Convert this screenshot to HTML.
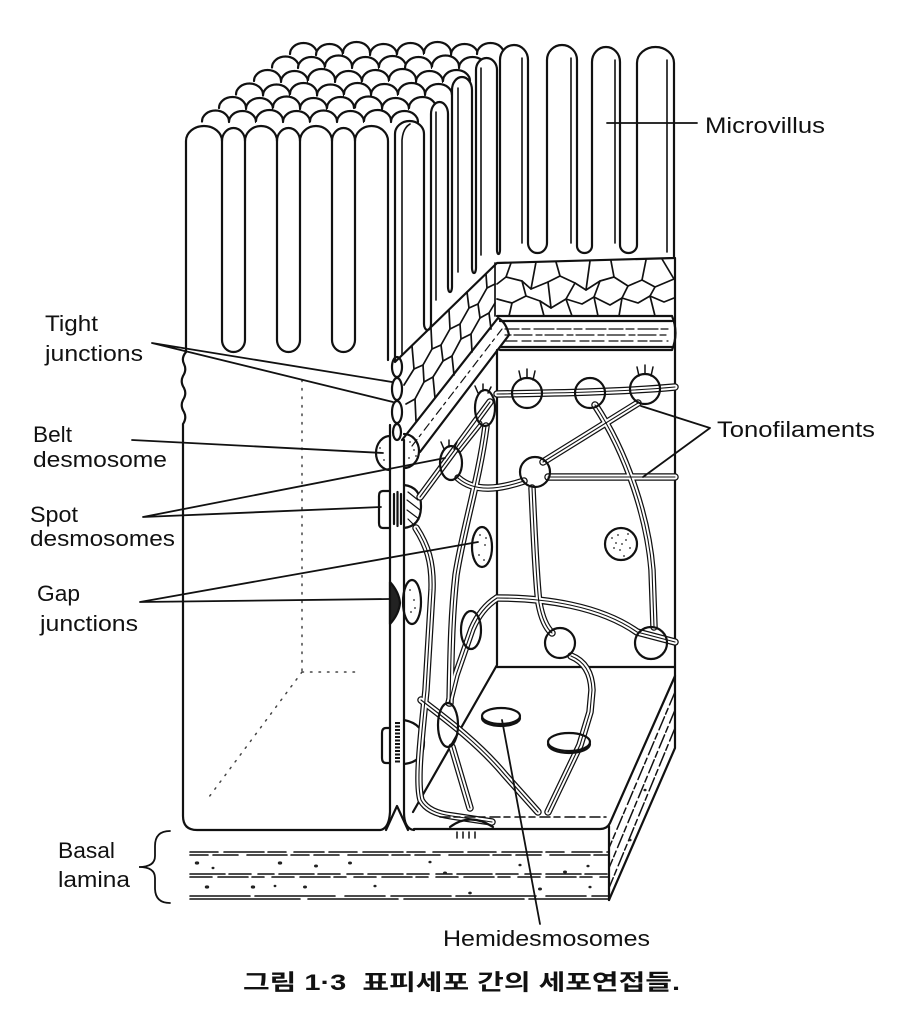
<!DOCTYPE html>
<html><head><meta charset="utf-8"><style>
html,body{margin:0;padding:0;background:#fff;}
svg{display:block;}
text{font-family:"Liberation Sans",Arial,sans-serif;fill:#111;}
.k{font-family:"Liberation Sans","Noto Sans CJK KR",sans-serif;}
</style></head><body>
<svg width="902" height="1010" viewBox="0 0 902 1010" xmlns="http://www.w3.org/2000/svg" xmlns:xlink="http://www.w3.org/1999/xlink">
<defs>
<g id="s"><path d="M0,0a13.5,11 0 0 1 27,0v9h-27z" fill="#fff" stroke="none"/><path d="M0,0a13.5,11 0 0 1 27,0" fill="none"/></g>
<g id="tf" fill="none">
<path d="M497,394 C560,393 620,392 675,387"/>
<path d="M458,478 C475,493 500,489 524,481"/>
<path d="M548,477 L675,477"/>
<path d="M543,462 L638,403"/>
<path d="M595,405 C628,455 648,520 652,570 L654,627"/>
<path d="M532,488 C534,530 536,580 539,603 Q543,625 552,633"/>
<path d="M571,656 Q591,664 592,690 L590,712 L580,745 L548,812"/>
<path d="M497,598 C545,598 600,606 637,632 L675,642"/>
<path d="M497,598 C486,605 478,615 472,629 L456,675 L449,703"/>
<path d="M486,426 C479,480 463,530 456,575 C451,620 451,660 450,703"/>
<path d="M416,528 C427,545 433,562 432,590 L426,690 C421,740 416,782 421,800 Q428,813 452,816 L492,822"/>
<path d="M421,700 C450,722 480,745 505,775 L538,812"/>
<path d="M452,747 L470,808"/>
<path d="M490,402 L420,497"/>
<path d="M479,424 L459,449"/>
</g>
</defs>

<g stroke="#111" stroke-width="2.2" fill="none" stroke-linecap="round" stroke-linejoin="round">
<!-- scale rows (back to front) -->
<use href="#s" x="290" y="54"/><use href="#s" x="316" y="55"/><use href="#s" x="343" y="53"/><use href="#s" x="370" y="55"/><use href="#s" x="397" y="54"/><use href="#s" x="424" y="53"/><use href="#s" x="451" y="55"/><use href="#s" x="477" y="54"/>
<use href="#s" x="272" y="67.5"/><use href="#s" x="298" y="68"/><use href="#s" x="325" y="66.5"/><use href="#s" x="352" y="68"/><use href="#s" x="379" y="67"/><use href="#s" x="405" y="68"/><use href="#s" x="432" y="66.5"/><use href="#s" x="459" y="68"/>
<use href="#s" x="254" y="81"/><use href="#s" x="281" y="82"/><use href="#s" x="308" y="80"/><use href="#s" x="335" y="82"/><use href="#s" x="362" y="81"/><use href="#s" x="389" y="80"/><use href="#s" x="416" y="82"/><use href="#s" x="443" y="81"/>
<use href="#s" x="236" y="94.5"/><use href="#s" x="263" y="95.5"/><use href="#s" x="290" y="94"/><use href="#s" x="317" y="95.5"/><use href="#s" x="344" y="94"/><use href="#s" x="371" y="95"/><use href="#s" x="398" y="94"/><use href="#s" x="425" y="95"/>
<use href="#s" x="219" y="108"/><use href="#s" x="246" y="109"/><use href="#s" x="273" y="107.5"/><use href="#s" x="300" y="109"/><use href="#s" x="327" y="108"/><use href="#s" x="355" y="107.5"/><use href="#s" x="382" y="109"/><use href="#s" x="409" y="108"/>
<use href="#s" x="202" y="121.5"/><use href="#s" x="229" y="122"/><use href="#s" x="256" y="121"/><use href="#s" x="283" y="122"/><use href="#s" x="310" y="121.5"/><use href="#s" x="337" y="122"/><use href="#s" x="364" y="121"/><use href="#s" x="391" y="122"/>

<!-- staircase + right villi -->
<path fill="#fff" d="M395,362 V134 A14.5,13 0 0 1 424,134 V324 A3.5,6 0 0 0 431,324 V114 A8.5,12 0 0 1 448,114 V287 A2,5 0 0 0 452,287 V90 A10,13 0 0 1 472,90 V268 A2,5 0 0 0 476,268 V70 A10.5,12 0 0 1 497,70 V250 A1.5,4 0 0 0 500,250 V60 A14,15 0 0 1 528,60 V243 A9.5,10 0 0 0 547,243 V60 A15,15 0 0 1 577,60 V246 A7.5,7 0 0 0 592,246 V62 A14,15 0 0 1 620,62 V245 A8.5,8 0 0 0 637,245 V63 A18.5,16 0 0 1 674,63 V258 L497,263 Z"/>
<g stroke-width="1.6">
<path d="M402,355 V140 Q403,128 410,124"/>
<path d="M436,300 V112"/>
<path d="M458,272 V88"/>
<path d="M481,255 V68"/>
<path d="M522,243 V58"/>
<path d="M571,243 V58"/>
<path d="M615,243 V60"/>
<path d="M667,252 V60"/>
</g>

<!-- front comb (left cell villi) -->
<path d="M186,352 V141 A18,15 0 0 1 222,141 V340 A11.5,12 0 0 0 245,340 V141 A16,15 0 0 1 277,141 V340 A11.5,12 0 0 0 300,340 V141 A16,15 0 0 1 332,141 V340 A11.5,12 0 0 0 355,340 V141 A16.5,15 0 0 1 388,141 V360"/>
<path d="M222,141 A11.5,13 0 0 1 245,141 M277,141 A11.5,13 0 0 1 300,141 M332,141 A11.5,13 0 0 1 355,141"/>

<!-- left cell -->
<path d="M186,352 Q181,358 184,364 Q187,370 183,376 Q180,382 184,388 Q187,394 183,400 Q180,406 184,412 Q187,418 183,424 L183,816 Q183,830 197,830 L380,830 Q389,829 390,812 V425"/>
<g stroke-width="1.5" stroke="#444" stroke-dasharray="1.5 7">
<path d="M302,380 V672"/><path d="M302,672 L209,797"/><path d="M302,672 H355"/>
</g>

<!-- tight junctions -->
<ellipse cx="397" cy="367" rx="5" ry="10"/>
<ellipse cx="397" cy="389" rx="5" ry="11"/>
<ellipse cx="397" cy="412" rx="5" ry="11"/>
<ellipse cx="397" cy="432" rx="4" ry="8"/>

<!-- right cell left edge + floor front -->
<path d="M404,440 V812 Q404,829 414,830"/>
<path d="M386,830 L397,806 L408,830"/>
<path d="M414,829 H600 Q607,829 610,823 L675,676"/>
<path d="M675,258 V748 L609,900"/>
<path d="M609,826 V900"/>
<path d="M497,350 V665 L413,812"/>
<path d="M497,667 H675"/>

<!-- belt desmosome -->
<path d="M390,436 A14,17 0 0 0 390,470"/>
<path d="M404,434 A15,17 0 0 1 404,468"/>

<!-- spot desmosome (junction) -->
<path d="M390,491 H383 Q379,491 379,496 V523 Q379,528 383,528 H390"/>
<path d="M404,485 Q421,487 421,506 Q421,526 404,528"/>
<g stroke-width="2.2"><path d="M394,494 V524 M397.5,492 V526 M401,494 V524"/></g>
<g stroke-width="1.2"><path d="M408,492 L418,500 M407,500 L420,510 M407,510 L419,519 M408,519 L414,525"/></g>

<!-- gap junction -->
<path d="M390,582 Q399,592 400,603 Q399,614 390,624 Z" fill="#222"/>
<ellipse cx="412" cy="602" rx="9" ry="22"/>

<!-- lower spot desmosome -->
<path d="M390,728 H386 Q382,728 382,733 V758 Q382,763 386,763 H390"/>
<path d="M397.5,722 V764" stroke-width="5" stroke-dasharray="2 1.5" stroke-linecap="butt"/>
<path d="M404,720 Q424,724 424,742 Q424,762 404,764"/>

<!-- cobblestones -->
<g stroke-width="1.7">
<polyline points="497,284 506,277 522,281 531,289 548,282 560,276 575,283 586,290 600,281 614,277 628,286 642,280 655,287 674,279"/>
<polyline points="497,299 512,303 526,296 540,301 551,308 566,299 582,304 594,297 610,305 622,298 638,303 650,296 664,302 674,298"/>
<path d="M506,277 L511,263 M531,289 L536,262 M560,276 L556,262 M586,290 L590,261 M614,277 L611,261 M642,280 L646,260 M674,279 L662,259"/>
<path d="M522,281 L526,296 M548,282 L551,308 M575,283 L566,299 M600,281 L594,297 M628,286 L622,298 M655,287 L650,296"/>
<path d="M512,303 L509,316 M540,301 L544,316 M566,299 L572,316 M594,297 L598,316 M622,298 L619,316 M650,296 L655,316"/>
<path d="M495,263 V316"/>
<polyline points="404,385 414,369 423,365 432,349 441,345 450,329 460,324 469,308 478,304 487,288 495,284"/>
<polyline points="406,404 415,399 424,382 433,377 443,361 452,356 461,339 471,334 480,318 489,313 495,303"/>
<path d="M412,346 L414,369 M431,328 L432,349 M449,310 L450,329 M467,292 L469,308 M486,274 L487,288"/>
<path d="M423,365 L424,382 M441,345 L443,361 M460,324 L461,339 M478,304 L480,318"/>
<path d="M415,399 L416,421 M433,377 L435,398 M452,356 L454,375 M471,334 L472,352 M489,313 L491,329"/>
</g>

<!-- horizontal bar -->
<path d="M497,316 H672 M500,321 H672 M500,347 H672 M500,350 H672 M672,316 Q679,333 672,350"/>
<g stroke-width="1.2">
<path d="M505,329 H668" stroke-dasharray="14 3 8 4 20 3"/>
<path d="M505,335 H668" stroke-dasharray="6 3 18 4"/>
<path d="M505,341 H668" stroke-dasharray="12 5 9 3"/>
</g>

<!-- diagonal bar -->
<path d="M402,440 L498,318 Q506,322 509,335 L420,452"/>
<path d="M412,446 L502,329" stroke-width="1.2" stroke-dasharray="8 4 3 5"/>
</g>

<!-- tonofilaments -->
<use href="#tf" stroke="#111" stroke-width="7.5" stroke-linecap="round" stroke-linejoin="round"/>
<use href="#tf" stroke="#fff" stroke-width="5" stroke-linecap="round" stroke-linejoin="round"/>
<use href="#tf" stroke="#111" stroke-width="1.1" stroke-linecap="round" stroke-linejoin="round"/>

<g stroke="#111" stroke-width="2.2" fill="none" stroke-linecap="round">
<!-- back wall desmosomes -->
<circle cx="527" cy="393" r="15"/>
<circle cx="590" cy="393" r="15"/>
<circle cx="645" cy="389" r="15"/>
<circle cx="535" cy="472" r="15"/>
<circle cx="621" cy="544" r="16"/>
<circle cx="560" cy="643" r="15"/>
<circle cx="651" cy="643" r="16"/>
<!-- side wall -->
<ellipse cx="485" cy="408" rx="10" ry="18"/>
<ellipse cx="451" cy="463" rx="11" ry="17"/>
<ellipse cx="482" cy="547" rx="10" ry="20"/>
<ellipse cx="471" cy="630" rx="10" ry="19"/>
<ellipse cx="448" cy="725" rx="10" ry="22"/>
<!-- tufts -->
<g stroke-width="1.5">
<path d="M521,380 L519,371 M527,378 V369 M533,380 L535,371"/>
<path d="M639,376 L637,367 M645,374 V365 M651,376 L653,367"/>
<path d="M478,393 L475,386 M483,391 V384 M488,393 L491,387"/>
<path d="M444,449 L441,442 M449,447 V440 M454,449 L457,442"/>
</g>
<!-- floor hemidesmosome discs -->
<ellipse cx="501" cy="716" rx="19" ry="8"/>
<path d="M482,718 A19,8 0 0 0 520,718"/>
<ellipse cx="569" cy="742" rx="21" ry="9"/>
<path d="M548,744 A21,9 0 0 0 590,744"/>
<path d="M450,827 Q470,812 493,827"/>
<path d="M457,832 V838 M463,832 V838 M469,832 V838 M475,832 V838" stroke-width="1.5"/>
<path d="M440,817 H606" stroke-width="1.5" stroke-dasharray="10 4 6 5"/>

<!-- slab inner -->
<g stroke-width="1.5" stroke-dasharray="14 4 6 3">
<path d="M675,692 L609,848"/><path d="M675,710 L609,868"/><path d="M675,728 L609,888"/>
</g>

<!-- basal lamina lines -->
<g stroke-width="1.6">
<path d="M190,852 H608" stroke-dasharray="28 6 40 4 18 8 30 5"/>
<path d="M190,855 H608" stroke-dasharray="18 5 25 9 40 4"/>
<path d="M190,874 H608" stroke-dasharray="35 4 22 7 16 5"/>
<path d="M190,877 H608" stroke-dasharray="22 6 30 4 12 8"/>
<path d="M190,896 H608" stroke-dasharray="60 5 80 10 40 6"/>
<path d="M190,899 H608" stroke-dasharray="110 8 90 6 120 5"/>
</g>

<!-- leaders -->
<g stroke-width="1.8">
<path d="M152,343 L392,382 M152,343 L393,402"/>
<path d="M132,440 L383,453"/>
<path d="M143,517 L445,458 M143,517 L381,507"/>
<path d="M140,602 L478,542 M140,602 L389,599"/>
<path d="M607,123 H697"/>
<path d="M710,428 L641,406 M710,428 L643,477"/>
<path d="M502,720 L540,924"/>
<path d="M170,831 Q155,831 155,846 L155,856 Q155,867 139,867 Q155,867 155,878 L155,888 Q155,903 170,903"/>
</g>
</g>

<!-- stipple dots -->
<g fill="#222">
<circle cx="410" cy="442" r="0.9"/><circle cx="414" cy="450" r="0.9"/><circle cx="409" cy="458" r="0.9"/><circle cx="416" cy="456" r="0.9"/><circle cx="380" cy="448" r="0.9"/><circle cx="376" cy="456" r="0.9"/><circle cx="384" cy="460" r="0.9"/>
<circle cx="612" cy="538" r="0.9"/><circle cx="618" cy="535" r="0.9"/><circle cx="626" cy="540" r="0.9"/><circle cx="630" cy="548" r="0.9"/><circle cx="620" cy="550" r="0.9"/><circle cx="614" cy="548" r="0.9"/><circle cx="624" cy="556" r="0.9"/><circle cx="628" cy="534" r="0.9"/><circle cx="616" cy="543" r="0.9"/><circle cx="622" cy="544" r="0.9"/>
<circle cx="480" cy="535" r="0.9"/><circle cx="485" cy="545" r="0.9"/><circle cx="479" cy="555" r="0.9"/><circle cx="484" cy="560" r="0.9"/><circle cx="486" cy="538" r="0.9"/>
<circle cx="410" cy="590" r="0.9"/><circle cx="414" cy="600" r="0.9"/><circle cx="411" cy="612" r="0.9"/><circle cx="415" cy="608" r="0.9"/>
<ellipse cx="197" cy="863" rx="2.2" ry="1.6"/><ellipse cx="213" cy="868" rx="1.5" ry="1.2"/><ellipse cx="280" cy="863" rx="2.2" ry="1.6"/><ellipse cx="316" cy="866" rx="2" ry="1.5"/><ellipse cx="350" cy="863" rx="2" ry="1.5"/>
<ellipse cx="207" cy="887" rx="2.2" ry="1.6"/><ellipse cx="253" cy="887" rx="2.2" ry="1.6"/><ellipse cx="275" cy="886" rx="1.4" ry="1.2"/><ellipse cx="305" cy="887" rx="2" ry="1.5"/><ellipse cx="375" cy="886" rx="1.6" ry="1.3"/>
<ellipse cx="445" cy="873" rx="2" ry="1.5"/><ellipse cx="520" cy="865" rx="1.6" ry="1.3"/><ellipse cx="565" cy="872" rx="2" ry="1.5"/><ellipse cx="540" cy="889" rx="2" ry="1.5"/><ellipse cx="590" cy="887" rx="1.6" ry="1.3"/><ellipse cx="588" cy="866" rx="1.6" ry="1.3"/><ellipse cx="470" cy="893" rx="1.8" ry="1.4"/><ellipse cx="430" cy="862" rx="1.6" ry="1.3"/><ellipse cx="645" cy="790" rx="1.6" ry="1.3"/><ellipse cx="630" cy="840" rx="1.6" ry="1.3"/>
</g>

<!-- labels -->
<g font-size="22">
<text x="705" y="133" textLength="120" lengthAdjust="spacingAndGlyphs">Microvillus</text>
<text x="717" y="437" textLength="158" lengthAdjust="spacingAndGlyphs">Tonofilaments</text>
<text x="45" y="331" textLength="53" lengthAdjust="spacingAndGlyphs">Tight</text>
<text x="45" y="361" textLength="98" lengthAdjust="spacingAndGlyphs">junctions</text>
<text x="33" y="442" textLength="39" lengthAdjust="spacingAndGlyphs">Belt</text>
<text x="33" y="467" textLength="134" lengthAdjust="spacingAndGlyphs">desmosome</text>
<text x="30" y="522" textLength="48" lengthAdjust="spacingAndGlyphs">Spot</text>
<text x="30" y="546" textLength="145" lengthAdjust="spacingAndGlyphs">desmosomes</text>
<text x="37" y="601" textLength="43" lengthAdjust="spacingAndGlyphs">Gap</text>
<text x="40" y="631" textLength="98" lengthAdjust="spacingAndGlyphs">junctions</text>
<text x="58" y="858" textLength="57" lengthAdjust="spacingAndGlyphs">Basal</text>
<text x="58" y="887" textLength="72" lengthAdjust="spacingAndGlyphs">lamina</text>
<text x="443" y="946" textLength="207" lengthAdjust="spacingAndGlyphs">Hemidesmosomes</text>
<text class="k" x="243" y="990" font-weight="bold" textLength="437" lengthAdjust="spacingAndGlyphs">그림 1·3&#160;&#160;표피세포 간의 세포연접들.</text>
</g>
</svg>
</body></html>
